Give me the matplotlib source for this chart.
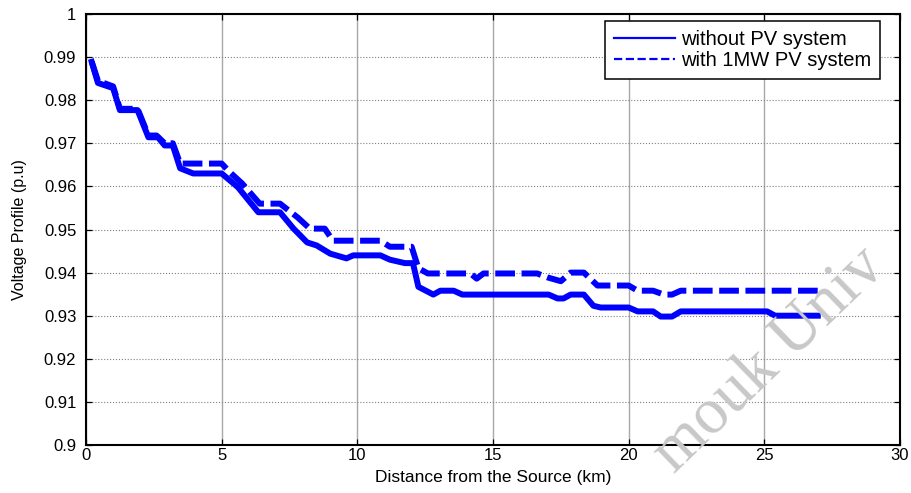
import matplotlib.pyplot as plt
from matplotlib.lines import Line2D

# Distance (km) and voltage (p.u)
dist_without_pv = [0.21, 0.44, 1.0, 1.25, 1.9, 2.3, 2.65, 2.9, 3.2, 3.47, 3.95, 5.0, 5.6, 6.35, 7.15,
                   7.65, 8.15, 8.5, 9.0, 9.6, 9.85, 10.85, 11.2, 11.75, 12.05, 12.25, 12.8, 13.06,
                   13.55, 13.87, 17.05, 17.38, 17.6, 17.86, 18.35, 18.7, 18.97, 20.0, 20.33, 20.9,
                   21.18, 21.6, 21.92, 25.1, 25.4, 26.97]
volt_without_pv = [0.9889, 0.984, 0.9828, 0.9777, 0.9777, 0.9714, 0.9714, 0.9695, 0.9695, 0.9642,
                   0.963, 0.963, 0.9598, 0.954, 0.954, 0.9502, 0.947, 0.9463, 0.9444, 0.9433, 0.944,
                   0.944, 0.943, 0.9422, 0.9422, 0.9367, 0.9349, 0.9358, 0.9358, 0.9349, 0.9349,
                   0.934, 0.934, 0.9349, 0.9349, 0.9323, 0.9319, 0.9319, 0.931, 0.931, 0.9298,
                   0.9298, 0.931, 0.931, 0.930, 0.930]

dist_with_pv = [0.21, 0.44, 1.0, 1.25, 1.9, 2.3, 2.6, 2.9, 3.2, 3.47, 5.0, 5.3, 5.75, 6.4, 7.15,
                7.8, 8.25, 8.8, 9.1, 10.85, 11.2, 12.0, 12.25, 12.6, 14.17, 14.4, 14.65, 16.63,
                17.0, 17.5, 17.86, 18.35, 18.85, 20.0, 20.33, 20.9, 21.3, 21.6, 21.92, 26.97]
volt_with_pv = [0.9889, 0.9845, 0.9832, 0.978, 0.978, 0.9718, 0.9718, 0.970, 0.970, 0.9653,
                0.9653, 0.9633, 0.9607, 0.956, 0.956, 0.9528, 0.9502, 0.9502, 0.9474, 0.9474,
                0.946, 0.946, 0.941, 0.9398, 0.9398, 0.9386, 0.9398, 0.9398, 0.9389, 0.938,
                0.940, 0.940, 0.937, 0.937, 0.9358, 0.9358, 0.9349, 0.9349, 0.9358, 0.9358]

x_ticks = [0, 5, 10, 15, 20, 25, 30]
y_ticks = [0.9, 0.91, 0.92, 0.93, 0.94, 0.95, 0.96, 0.97, 0.98, 0.99, 1.0]
y_tick_labels = ['0.9', '0.91', '0.92', '0.93', '0.94', '0.95', '0.96', '0.97', '0.98', '0.99', '1']

plt.rcParams['font.family'] = ['Liberation Sans', 'DejaVu Sans']

fig = plt.figure(figsize=(9.12, 4.93), dpi=100)
ax = fig.add_axes([86 / 912, 1 - 445 / 493, 814 / 912, 431 / 493])

ax.plot(dist_without_pv, volt_without_pv, color='#0000ff', lw=4.3, solid_joinstyle='round')
dashed, = ax.plot(dist_with_pv, volt_with_pv, color='#0000ff', lw=4.3, dash_capstyle='butt')
dashed.set_dashes((3.3, 1.1))

ax.set_xlim(0, 30)
ax.set_ylim(0.9, 1.0)
ax.set_xticks(x_ticks)
ax.set_yticks(y_ticks)
ax.set_yticklabels(y_tick_labels)
ax.tick_params(direction='in', length=4.5, width=0.9, top=True, right=True, labelsize=12)
ax.tick_params(axis='y', pad=7)
ax.tick_params(axis='x', pad=2)

# MATLAB-like grid
ax.xaxis.grid(True, color='#a8a8a8', lw=1.0, ls='-')
ax.yaxis.grid(True, color='#808080', lw=0.8, ls=':')
ax.set_axisbelow(True)
for s in ax.spines.values():
    s.set_linewidth(1.5)

ax.set_xlabel('Distance from the Source (km)', fontsize=12.5)
ax.xaxis.set_label_coords(0.5, -0.058)
ax.set_ylabel('Voltage Profile (p.u)', fontsize=11.5)
ax.yaxis.set_label_coords(-0.072, 0.5)

handles = [Line2D([], [], color='#0000ff', lw=1.6),
           Line2D([], [], color='#0000ff', lw=1.6, ls='--')]
leg = ax.legend(handles, ['without PV system', 'with 1MW PV system'], loc='upper right',
                bbox_to_anchor=(880 / 912, 1 - 21 / 493), bbox_transform=fig.transFigure,
                fontsize=14.5, fancybox=False, framealpha=1, edgecolor='black', borderaxespad=0,
                handlelength=3.0, handletextpad=0.3, borderpad=0.45, labelspacing=0.08)
leg.get_frame().set_linewidth(1.1)

# watermark of the source document
fig.text(770 / 912, 1 - 360 / 493, 'mouk Univ', fontsize=47, family='Liberation Serif',
         color='#c8c8c8', rotation=44, rotation_mode='anchor', ha='center', va='center', zorder=10)

fig.savefig('out.png', dpi=100)
